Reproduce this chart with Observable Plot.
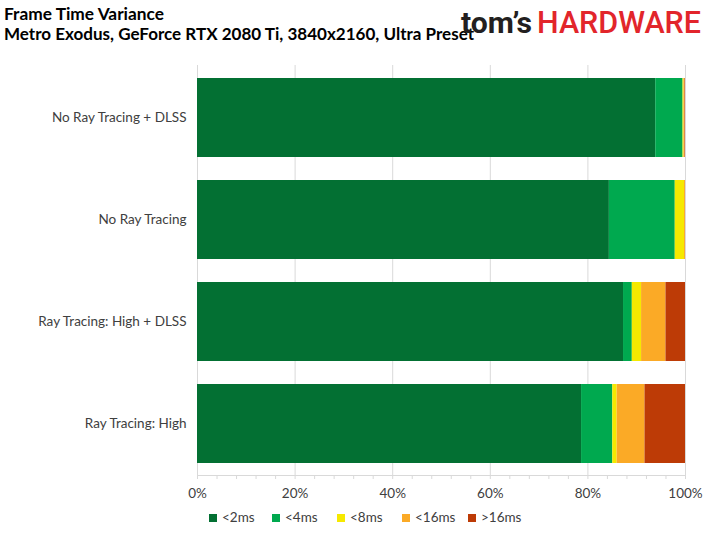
<!DOCTYPE html>
<html>
<head>
<meta charset="utf-8">
<script src="https://cdn.jsdelivr.net/npm/d3@7"></script>
<script src="https://cdn.jsdelivr.net/npm/@observablehq/plot@0.6"></script>
<style>
  html, body { margin: 0; padding: 0; background: #fff; }
  #wrap { position: relative; width: 711px; height: 533px; overflow: hidden; font-family: Lato, "Open Sans", sans-serif; }
  #chart { position: absolute; left: 0; top: 0; }
  #header { position: absolute; left: 0; top: 0; }
  #legend { position: absolute; left: 0; top: 508px; width: 711px; height: 20px; }
  .lg { position: absolute; top: 0; font-size: 13.5px; color: #404040; line-height: 18px; white-space: nowrap; }
  .lg span.sw { display: inline-block; width: 8px; height: 8px; margin-right: 5px; vertical-align: 0px; }
</style>
</head>
<body>
<div id="wrap">
  <div id="chart"></div>
  <svg id="header" width="711" height="55"></svg>
  <div id="legend"></div>
</div>
<script>
const categories = ["No Ray Tracing + DLSS", "No Ray Tracing", "Ray Tracing: High + DLSS", "Ray Tracing: High"];
const buckets = ["<2ms", "<4ms", "<8ms", "<16ms", ">16ms"];
const colors = ["#037033", "#00A94F", "#F6E900", "#FBAA26", "#BD3B06"];
const lt2ms = [93.9, 84.4, 87.3, 78.7];
const lt4ms = [5.6, 13.5, 1.8, 6.4];
const lt8ms = [0.2, 1.9, 1.9, 0.9];
const lt16ms = [0.2, 0.2, 5.0, 5.7];
const gt16ms = [0.1, 0.0, 4.0, 8.3];
const xTicks = [0, 20, 40, 60, 80, 100];
const minorTicks = [0, 4, 8, 12, 16, 20, 24, 28, 32, 36, 40, 44, 48, 52, 56, 60, 64, 68, 72, 76, 80, 84, 88, 92, 96, 100];
const titleText = "Frame Time Variance";
const subtitleText = "Metro Exodus, GeForce RTX 2080 Ti, 3840x2160, Ultra Preset";

const series = [lt2ms, lt4ms, lt8ms, lt16ms, gt16ms];
const rows = [];
categories.forEach((c, i) => {
  buckets.forEach((b, j) => rows.push({category: c, bucket: b, value: series[j][i]}));
});

const chart = Plot.plot({
  width: 711,
  height: 533,
  marginTop: 65,
  marginBottom: 58,
  marginLeft: 197,
  marginRight: 26,
  style: {fontFamily: "Lato, 'Open Sans', sans-serif", fontSize: "13.5px", color: "#404040", background: "#fff"},
  x: {domain: [0, 100], label: null},
  y: {domain: categories, paddingInner: 0.23, paddingOuter: 0.115, label: null},
  color: {domain: buckets, range: colors},
  marks: [
    Plot.gridX(xTicks, {stroke: "#d9d9d9", strokeOpacity: 1, strokeWidth: 1}),
    Plot.barX(rows, Plot.stackX({x: "value", y: "category", fill: "bucket", order: buckets})),
    Plot.frame({anchor: "bottom", stroke: "#d9d9d9"}),
    Plot.axisX(minorTicks, {tickSize: 4, stroke: "#d9d9d9", text: null, label: null}),
    Plot.axisX(xTicks, {tickSize: 0, tickPadding: 13, tickFormat: d => d + "%", fill: "#404040", fontSize: 13.5, label: null}),
    Plot.axisY({tickSize: 0, tickPadding: 11, fill: "#404040", fontSize: 13.5, label: null})
  ]
});
document.getElementById("chart").appendChild(chart);

// Header: titles and logo
const hdr = d3.select("#header");
hdr.append("text").attr("x", 4).attr("y", 20).attr("font-family", "Lato, sans-serif")
  .attr("font-weight", "bold").attr("font-size", 17).attr("fill", "#000")
  .attr("textLength", 160).attr("lengthAdjust", "spacingAndGlyphs").text(titleText);
hdr.append("text").attr("x", 4).attr("y", 40).attr("font-family", "Lato, sans-serif")
  .attr("font-weight", "bold").attr("font-size", 17).attr("fill", "#000")
  .attr("textLength", 470).attr("lengthAdjust", "spacingAndGlyphs").text(subtitleText);
hdr.append("text").attr("x", 461).attr("y", 33).attr("font-family", "Roboto, sans-serif")
  .attr("font-weight", "bold").attr("font-size", 30).attr("fill", "#231f20")
  .attr("textLength", 71).attr("lengthAdjust", "spacingAndGlyphs").text("tom’s");
hdr.append("text").attr("x", 537).attr("y", 33).attr("font-family", "Roboto, sans-serif")
  .attr("font-weight", "500").attr("font-size", 32).attr("fill", "#E2252B")
  .attr("textLength", 164).attr("lengthAdjust", "spacingAndGlyphs").text("HARDWARE");

// Legend
const legendX = [209, 272, 337, 402, 468];
const lg = d3.select("#legend");
buckets.forEach((b, j) => {
  const item = lg.append("div").attr("class", "lg").style("left", legendX[j] + "px");
  item.append("span").attr("class", "sw").style("background", colors[j]);
  item.append("span").text(b);
});
</script>
</body>
</html>
